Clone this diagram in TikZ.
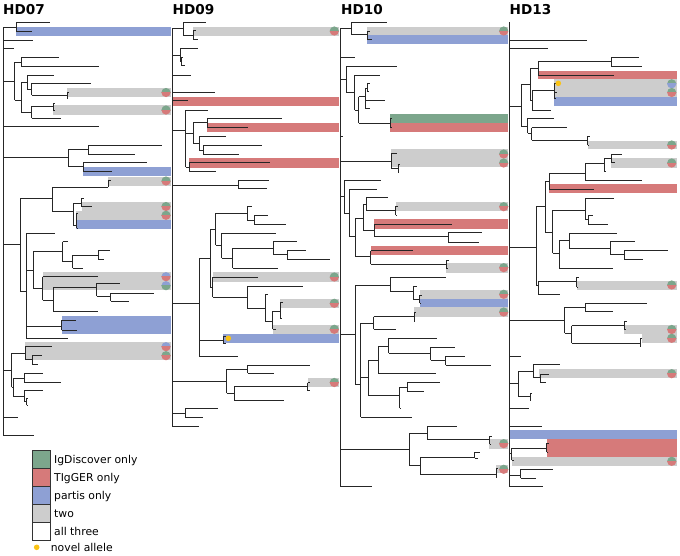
\documentclass[tikz,border=0pt]{standalone}
\usepackage{fontspec}
\setmainfont{DejaVu Sans}
\usepackage{tikz}
\definecolor{igdgreen}{RGB}{124,166,140}
\definecolor{tigred}{RGB}{214,122,122}
\definecolor{partblue}{RGB}{142,160,212}
\definecolor{twogray}{RGB}{205,205,205}
\definecolor{novelyellow}{RGB}{250,195,20}
\tikzset{
    branch/.style={line width=0.8pt, black!85},
    treetitle/.style={font=\fontsize{13.6}{15}\selectfont\bfseries, inner sep=0pt, anchor=base west},
    legbox/.style={draw=black!80, line width=0.8pt},
    legtext/.style={font=\fontsize{10.8}{13}\selectfont, inner sep=0pt, anchor=base west},
}
% half green / half red style markers at the end of a highlight
\newcommand{\twotone}[4]{%
  \begin{scope}
    \clip (#1-5,#2-5) rectangle (#1+5,#2);
    \fill[#3] (#1,#2) circle[radius=4.6];
  \end{scope}
  \begin{scope}
    \clip (#1-5,#2) rectangle (#1+5,#2+5);
    \fill[#4] (#1,#2) circle[radius=4.6];
  \end{scope}}

\begin{document}
\begin{tikzpicture}[x=1pt, y=-1pt]
\useasboundingbox (0,0) rectangle (680,555);

% Titles
\node[treetitle] (hd07) at (3,14) {HD07};
\node[treetitle] (hd09) at (172.5,14) {HD09};
\node[treetitle] (hd10) at (341,14) {HD10};
\node[treetitle] (hd13) at (509.5,14) {HD13};

% Highlight bars
% HD07
\foreach \xa/\ya/\yb/\c in {16/26.7/35.7/partblue, 67/87.7/97.3/twogray, 53.3/105.3/115/twogray,
    83.3/166.7/175.7/partblue, 108.3/176.7/185.7/twogray, 81.7/201.7/210.7/twogray,
    76/210.7/220/twogray, 76/220/229/partblue, 42.7/272.3/290/twogray,
    61.7/316/334/partblue, 25/342.3/360/twogray}
  \fill[fill=\c] (\xa,\ya) rectangle (171,\yb);
% HD09
\foreach \xa/\ya/\yb/\c in {193.3/26.7/35.7/twogray, 172.7/96.7/106/tigred, 207.3/122.7/132.3/tigred,
    189/158.3/167.7/tigred, 212.7/272.3/281.7/twogray, 280/299/307.7/twogray,
    272.7/325.3/334/twogray, 223.3/334/343.3/partblue, 307.7/378.3/386.7/twogray}
  \fill[fill=\c] (\xa,\ya) rectangle (339.3,\yb);
% HD10
\foreach \xa/\ya/\yb/\c in {367.3/26.7/35.3/twogray, 367.3/35.3/44/partblue, 390.3/114/122.7/igdgreen,
    390.3/122.7/132/tigred, 391.3/149.3/167.3/twogray, 395.7/202/211.3/twogray,
    374/219.3/229.3/tigred, 370.7/246/255/tigred, 446.3/263.3/272.7/twogray,
    419.7/289.7/298.7/twogray, 419.7/298.7/307.3/partblue, 414/307.3/316.7/twogray,
    488.7/439.3/448.7/twogray, 496/465/473.3/twogray}
  \fill[fill=\c] (\xa,\ya) rectangle (508,\yb);
% HD13
\foreach \xa/\ya/\yb/\c in {538.3/70.7/79.3/tigred, 554.3/79.3/88.3/twogray, 554.3/88.3/96.7/twogray,
    554.3/96.7/106/partblue, 587.7/140.7/149.3/twogray, 611/158.3/167.7/twogray,
    549.3/184.3/193.3/tigred, 576.7/281/290/twogray, 624.3/325/334/twogray,
    641.7/334/342.7/twogray, 539/369/378.3/twogray, 510/430/439/partblue,
    546.7/439/456.7/tigred, 511.7/456.7/466/twogray}
  \fill[fill=\c] (\xa,\ya) rectangle (677,\yb);

% HD07 tree
\foreach \y/\a/\b in {27.3/3.3/16, 22.7/16/50, 31.7/16/32, 40/3.3/33, 48.7/3.3/14,
    81/3.3/14.7, 62/14.7/21.3, 57.3/21.3/59, 66.3/21.3/99, 100/14.7/21.3, 82/21.3/27.3,
    75/27.3/54, 89/27.3/31.7, 83.3/31.7/90.7, 95/31.7/67, 92/67/69, 98/67/68,
    112/21.3/31.7, 106/31.7/53.3, 103.3/53.3/55, 110/53.3/54.5, 118.3/31.7/61,
    126.7/3.3/99, 157.5/3.3/68.3, 149/68.3/88.3, 145/88.3/161.7, 154/88.3/135,
    166/68.3/83.3, 162.7/83.3/146.7, 171.7/83.3/111.7,
    244/3.3/20, 198/20/52.7, 187.3/52.7/108.3, 180/108.3/110.5, 186/108.3/109,
    211.7/52.7/73.3, 203.3/73.3/81.7, 198.3/81.7/83.7, 206.7/81.7/91.7,
    225/73.3/76.7, 213.3/76.7/78, 228/76.7/78,
    291.7/20/26.3, 233.3/26.3/55, 270/26.3/33.3, 251.7/33.3/62.7, 241.7/62.7/68.3,
    261.7/62.7/72.7, 255/72.7/98.3, 250/98.3/110, 259.3/98.3/104, 268.3/72.7/82.7,
    288/33.3/42.7, 276.7/42.7/98.3, 300/42.7/53.3, 287/53.3/96.7, 283/96.7/120,
    296/96.7/110.7, 293/110.7/154, 301/110.7/129.3, 311.7/53.3/98.3,
    326.7/26.3/61.7, 320/61.7/76, 330/61.7/77, 338.3/26.3/68.3,
    370/3.3/11.7, 353.3/11.7/25, 346.7/25/51.7, 359/25/32.3, 355/32.3/41.7, 364/32.3/38.3,
    387/11.7/13.3, 378.3/13.3/24, 373.3/24/43.3, 382.3/24/60.7, 396/13.3/24,
    390.7/24/42.7, 401/24/26.7, 398/26.7/28, 405/26.7/27,
    417/3.3/18.3, 435/3.3/34}
  \draw[branch] (\a,\y) -- (\b,\y);
\foreach \x/\a/\b in {3.3/27.3/435, 16/22.7/31.7, 14.7/62/100, 21.3/57.3/66.3, 21.3/82/112,
    27.3/75/89, 31.7/83.3/95, 67/92/98, 31.7/106/118.3, 53.3/103.3/110, 68.3/149/166,
    88.3/145/154, 83.3/162.7/171.7, 20/198/291.7, 52.7/187.3/211.7, 108.3/180/186,
    73.3/203.3/225, 81.7/198.3/206.7, 76.7/213.3/228, 26.3/233.3/338.3, 33.3/251.7/288,
    62.7/241.7/261.7, 72.7/255/268.3, 98.3/250/259.3, 42.7/276.7/300, 53.3/287/311.7,
    96.7/283/296, 110.7/293/301, 61.7/320/330, 11.7/353.3/387, 25/346.7/359,
    32.3/355/364, 13.3/378.3/396, 24/373.3/382.3, 24/390.7/401, 26.7/398/405}
  \draw[branch] (\x,\a) -- (\x,\b);

% HD09 tree
\foreach \y/\a/\b in {28.3/172.7/183.3, 22.7/183.3/206, 35/183.3/193.3, 30/193.3/196, 39.3/193.3/198.3,
    55/172.7/180, 48.3/180/198.3, 61.7/180/181.7, 57.3/181.7/183.3, 65.7/181.7/185,
    75/172.7/190.7, 92/172.7/215, 100.7/172.7/188.3,
    130/172.7/185.7, 110/185.7/208.3, 133/185.7/193.3, 122.8/193.3/207.3, 118.3/207.3/281.7,
    127.3/207.3/247.7, 143.3/193.3/199.3, 136.3/199.3/226, 150/199.3/203.3, 145.3/203.3/261.7,
    154/203.3/239, 167/185.7/189, 162.7/189/270, 171.7/189/215.7,
    185/172.7/238.3, 180.7/238.3/269.3, 188.7/238.3/267.3,
    303.3/172.7/199.3, 258.3/199.3/210, 229.3/210/215.7, 213.3/215.7/247.3, 206.7/247.3/251.7,
    220/247.3/254, 215/254/268.3, 224/254/286, 245/215.7/221.7, 233.3/221.7/276,
    258.3/221.7/232.7, 248.3/232.7/273.3, 241.7/273.3/296.7, 254.3/273.3/287.3,
    250.7/287.3/306, 259.3/287.3/330, 268.3/232.7/278.3,
    287/210/212.7, 277.3/212.7/258, 297/212.7/247, 286/247/302.7, 308.3/247/265.7,
    294/265.7/268.3, 321.7/265.7/272.7, 311/272.7/280, 302.7/280/283, 318/280/282,
    329.3/272.7/276, 340/199.3/223.3, 336/223.3/226, 343/223.3/225.5, 356/199.3/238.3,
    381.3/172.7/226.7, 369.3/226.7/247.7, 365/247.7/310, 373.3/247.7/274,
    393.3/226.7/234.3, 386.7/234.3/307.7, 382.7/307.7/310, 390.7/307.7/309.5, 400/234.3/284.3,
    413.3/172.7/185.3, 408.3/185.3/218.3, 417.3/185.3/203.3, 426.7/172.7/199.3}
  \draw[branch] (\a,\y) -- (\b,\y);
\foreach \x/\a/\b in {172.7/28.3/426.7, 183.3/22.7/35, 193.3/30/39.3, 180/48.3/61.7, 181.7/57.3/65.7,
    185.7/110/167, 193.3/122.8/143.3, 207.3/118.3/127.3, 199.3/136.3/150, 203.3/145.3/154,
    189/162.7/171.7, 238.3/180.7/188.7, 199.3/258.3/356, 210/229.3/287, 215.7/213.3/245,
    247.3/206.7/220, 254/215/224, 221.7/233.3/258.3, 232.7/248.3/268.3, 273.3/241.7/254.3,
    287.3/250.7/259.3, 212.7/277.3/297, 247/286/308.3, 265.7/294/321.7, 272.7/311/329.3,
    280/302.7/318, 223.3/336/343, 226.7/369.3/393.3, 247.7/365/373.3, 234.3/386.7/400,
    307.7/382.7/390.7, 185.3/408.3/417.3}
  \draw[branch] (\x,\a) -- (\x,\b);

% HD10 tree
\foreach \y/\a/\b in {28.3/340.7/351.3, 22.3/351.3/387, 34.7/351.3/367.3, 31/367.3/370, 39.3/367.3/372,
    57.3/340.7/354.7, 79/340.7/346.3, 66/346.3/397, 92/346.3/354.7, 75/354.7/379.7,
    110/354.7/358.7, 96.7/358.7/365.3, 88.3/365.3/367.3, 83.3/367.3/370, 91.7/367.3/369,
    100.7/365.3/384.7, 108/365.3/370.3, 123.3/358.7/390.3, 118.3/390.3/392, 127.3/390.3/391.5,
    136/340.7/343.3, 161.7/340.7/391.3, 153.7/391.3/397, 168/391.3/398, 164/398/400, 172/398/399,
    196.7/340.7/344, 180.7/344/380.7, 213.3/344/349.7, 189.3/349.7/377.3, 236.7/349.7/355.3,
    218.3/355.3/363, 204/363/366, 197.3/366/388, 210.7/366/395.7, 206/395.7/398, 215/395.7/397,
    230/363/374, 224/374/452.3, 236.7/374/448.3, 232.3/448.3/482.3, 242.3/448.3/478.7,
    256.7/355.3/370.7, 250.7/370.7/413, 264/370.7/446.3, 260/446.3/449, 268/446.3/448,
    334.3/340.7/355.3, 285/355.3/390, 277.3/390/446.3, 291.7/390/413, 286/413/416.5,
    299/413/419.7, 295/419.7/422, 303/419.7/421,
    384/355.3/360.7, 323.3/360.7/373.7, 316.7/373.7/414, 312/414/416, 321/414/415,
    329.3/373.7/396.3, 377.3/360.7/368.7, 360/368.7/378, 346/378/388.7, 338.3/388.7/437.3,
    353.3/388.7/430.7, 347.3/430.7/455.3, 360/430.7/445.7, 356/445.7/465.3, 365/445.7/490.7,
    373.3/378/436.3, 395.7/368.7/399.7, 387/399.7/407.3, 382.7/407.3/439.7, 391/407.3/424,
    408.3/399.7/401.3, 417.3/360.7/411.7,
    449.3/340.7/409.3, 433/409.3/427.3, 426/427.3/457, 439.3/427.3/489.7, 436/489.7/492,
    444/489.7/491, 465/409.3/420.3, 457.7/420.3/474.7, 452/474.7/480, 458/474.7/478,
    474/420.3/496, 468.3/496/498, 477/496/497, 486.7/340.7/372.3}
  \draw[branch] (\a,\y) -- (\b,\y);
\foreach \x/\a/\b in {340.7/28.3/486.7, 351.3/22.3/34.7, 367.3/31/39.3, 346.3/66/92, 354.7/75/110,
    358.7/96.7/123.3, 365.3/88.3/108, 367.3/83.3/91.7, 390.3/118.3/127.3, 391.3/153.7/168,
    398/164/172, 344/180.7/213.3, 349.7/189.3/236.7, 355.3/218.3/256.7, 363/204/230,
    366/197.3/210.7, 395.7/206/215, 374/224/236.7, 448.3/232.3/242.3, 370.7/250.7/264,
    446.3/260/268, 355.3/285/384, 390/277.3/291.7, 413/286/299, 419.7/295/303,
    360.7/323.3/417.3, 373.7/316.7/329.3, 414/312/321, 368.7/360/395.7, 378/346/373.3,
    388.7/338.3/353.3, 430.7/347.3/360, 445.7/356/365, 399.7/387/408.3, 407.3/382.7/391,
    409.3/433/465, 427.3/426/439.3, 489.7/436/444, 420.3/457.7/474, 474.7/452/458, 496/468.3/477}
  \draw[branch] (\x,\a) -- (\x,\b);

% HD13 tree
\foreach \y/\a/\b in {40/509.3/587.3, 48.7/509.3/547.7,
    106/509.3/521.7, 84/521.7/530, 68.3/530/538.3, 61.7/538.3/611, 57.3/611/639, 66/611/642.3,
    75/538.3/614.3, 100/530/532, 90/532/554.3, 83.3/554.3/557, 92/554.3/556.5, 98.3/554.3/556,
    110/532/551, 126.7/521.7/527.7, 118.3/527.7/554.3, 133.3/527.7/531.7, 127.7/531.7/567,
    140/531.7/587.7, 136/587.7/590, 145/587.7/589,
    247.3/509.3/536, 206.7/536/545, 181.3/545/549.3, 173.3/549.3/585, 163.3/585/604.3,
    158.3/604.3/611.7, 154/611.7/621.7, 162.7/611.7/615, 171.7/604.3/606, 180/585/641.7,
    189.3/549.3/594.3, 232.7/545/552.7, 210/552.7/585, 198.3/585/614.3, 219.5/585/588,
    215/588/593.3, 224/588/607.7, 253.3/552.7/559.3, 240/559.3/569.3, 233.3/569.3/616.7,
    248.3/569.3/610, 241.7/610/635, 254.3/610/624.3, 250.7/624.3/667.7, 259.3/624.3/643.3,
    268.3/559.3/613.3, 285/536/538.3, 281/538.3/576.7, 277.3/576.7/579, 287/576.7/578, 294/538.3/560,
    320/509.3/564.7, 307/564.7/585.7, 303/585.7/646.7, 311.7/585.7/613.3, 333.3/564.7/571.7,
    325.7/571.7/624.3, 321/624.3/627, 329/624.3/626, 343/571.7/640, 338/640/642, 346.7/640/641,
    356/509.3/521.3, 383.3/509.3/518.7, 371/518.7/533, 364.3/533/559.7, 377.3/533/540.7,
    374/540.7/548.7, 382.7/540.7/545.7, 396.7/518.7/530, 393.3/530/532, 400/530/531,
    408.3/509.3/528.7, 426/509.3/542, 453.3/509.3/511.7, 448.3/511.7/546.7, 443.3/546.7/549,
    452.3/546.7/548, 460/511.7/514, 475/509.3/520.7, 469.3/520.7/553.3, 478.3/520.7/536,
    486.7/509.3/542.7}
  \draw[branch] (\a,\y) -- (\b,\y);
\foreach \x/\a/\b in {509.3/22.3/486.7, 521.7/84/126.7, 530/68.3/100, 538.3/61.7/75, 611/57.3/66,
    532/90/110, 554.3/83.3/98.3, 527.7/118.3/133.3, 531.7/127.7/140, 587.7/136/145,
    536/206.7/285, 545/181.3/232.7, 549.3/173.3/189.3, 585/163.3/180, 604.3/158.3/171.7,
    611.7/154/162.7, 552.7/210/253.3, 585/198.3/219.5, 588/215/224, 559.3/240/268.3,
    569.3/233.3/248.3, 610/241.7/254.3, 624.3/250.7/259.3, 538.3/281/294, 576.7/277.3/287,
    564.7/307/333.3, 585.7/303/311.7, 571.7/325.7/343, 624.3/321/329, 640/338/346.7,
    518.7/371/396.7, 533/364.3/377.3, 540.7/374/382.7, 530/393.3/400, 511.7/448.3/460,
    546.7/443.3/452.3, 520.7/469.3/478.3}
  \draw[branch] (\x,\a) -- (\x,\b);

% Markers
\foreach \cy/\ct/\cb in {92.5/igdgreen/tigred, 110/igdgreen/tigred, 181/igdgreen/tigred,
    206.5/igdgreen/tigred, 215.3/igdgreen/tigred, 276.7/partblue/tigred, 285.7/partblue/igdgreen,
    346.7/partblue/tigred, 355.7/igdgreen/tigred}
  {\twotone{166}{\cy}{\ct}{\cb}}
\foreach \cy/\ct/\cb in {31/igdgreen/tigred, 277/igdgreen/tigred, 303.3/igdgreen/tigred,
    329.3/igdgreen/tigred, 382.5/igdgreen/tigred}
  {\twotone{334.3}{\cy}{\ct}{\cb}}
\foreach \cy/\ct/\cb in {31/igdgreen/tigred, 154/igdgreen/tigred, 163/igdgreen/tigred,
    206.7/igdgreen/tigred, 267.7/igdgreen/tigred, 294.3/igdgreen/tigred, 312/igdgreen/tigred,
    443.7/igdgreen/tigred, 469.3/igdgreen/tigred}
  {\twotone{503.7}{\cy}{\ct}{\cb}}
\foreach \cy/\ct/\cb in {83.8/igdgreen/partblue, 92.5/igdgreen/tigred, 145/igdgreen/tigred,
    163/igdgreen/tigred, 285/igdgreen/tigred, 329.5/igdgreen/tigred, 338.3/igdgreen/tigred,
    373.7/igdgreen/tigred, 461.3/igdgreen/tigred}
  {\twotone{671.7}{\cy}{\ct}{\cb}}

% Novel alleles
\fill[novelyellow] (228.3,338.3) circle[radius=2.8];
\fill[novelyellow] (558.3,83.3) circle[radius=2.8];

% Legend
\foreach \i/\c/\t in {0/igdgreen/IgDiscover only, 1/tigred/TIgGER only, 2/partblue/partis only,
    3/twogray/two, 4/white/all three} {
  \draw[legbox, fill=\c] (32.3,450+18*\i) rectangle (50,468+18*\i);
  \node[legtext] (leg\i) at (54,463+18*\i) {\t};
}
\fill[novelyellow] (36.7,547.3) circle[radius=2.8];
\node[legtext] (legnovel) at (50.7,551.2) {novel allele};

\end{tikzpicture}
\end{document}
